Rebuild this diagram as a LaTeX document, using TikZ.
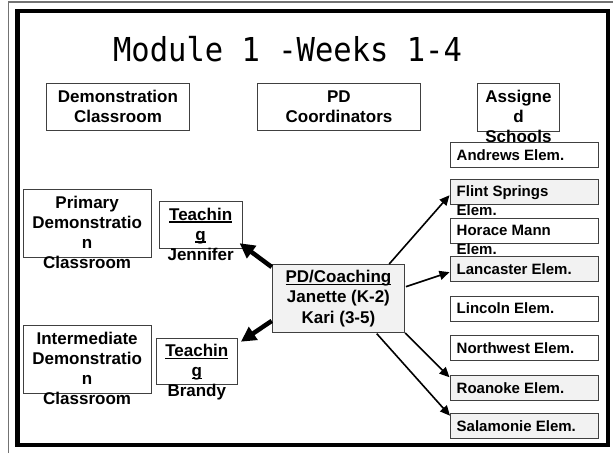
\documentclass[tikz,border=0pt]{standalone}
\usepackage{fontspec}
\setmainfont{Liberation Sans}
\newfontfamily\titlefont{DejaVu Sans Mono}
\usetikzlibrary{arrows.meta,calc}
% underline drawn as a rule just below the baseline
\newcommand\ulined[1]{\setbox0\hbox{#1}\rlap{\rule[-2.6pt]{\wd0}{1.3pt}}\box0}
\begin{document}
\begin{tikzpicture}[x=1pt,y=-1pt,
  box/.style={draw=black!75,line width=0.9pt,fill=white,inner sep=0pt,anchor=north west},
  shaded/.style={box,fill=black!5},
  school/.style={box,minimum width=148.5pt,minimum height=25pt},
  shadedschool/.style={school,fill=black!5},
  lbl/.style={font=\bfseries\fontsize{17}{20}\selectfont,align=center,inner sep=0pt,anchor=base},
  slbl/.style={font=\bfseries\fontsize{15}{19}\selectfont,align=left,inner sep=0pt,anchor=base west},
  bigarrow/.style={line width=4.5pt,-{Triangle[length=15pt,width=15pt]}},
  thinarrow/.style={line width=1.6pt,-{Triangle[length=10pt,width=9pt]}}
]
\useasboundingbox (0,0) rectangle (613,453);
\fill[white] (0,0) rectangle (613,453);

% slide border and frame
\draw[black!55,line width=1.2pt] (8.5,453) -- (8.5,2) -- (613,2);
\draw[line width=4.5pt] (17.5,11) rectangle (608,445);

% title
\node[font=\titlefont\fontsize{30.5}{34}\selectfont,inner sep=0pt,anchor=base] (title) at (287.5,61.7) {\scalebox{1}[1.08]{Module 1 -Weeks 1-4}};

% column headings (labels are placed by the baseline of their last line)
\node[box,minimum width=143pt,minimum height=47pt] (demo) at (46,83) {};
\node[lbl] (demo-t) at ($(demo.north)+(0,39)$) {Demonstration\\Classroom};
\node[box,minimum width=163pt,minimum height=47pt] (coord) at (257,83) {};
\node[lbl] (coord-t) at ($(coord.north)+(0,39)$) {PD\\Coordinators};
\node[box,minimum width=82pt,minimum height=47.5pt] (assigned) at (477,83) {};
\node[lbl] (assigned-t) at ($(assigned.north)+(0,59.5)$) {Assigne\\d\\Schools};

% schools
\node[school] (andrews) at (449.5,141.7) {};
\node[slbl] (andrews-t) at ($(andrews.north west)+(7,18.3)$) {Andrews Elem.};
\node[shadedschool] (flint) at (449.5,179.3) {};
\node[slbl] (flint-t) at ($(flint.north west)+(7,36)$) {Flint Springs\\Elem.};
\node[school] (horace) at (449.5,217.7) {};
\node[slbl] (horace-t) at ($(horace.north west)+(7,37)$) {Horace Mann\\Elem.};
\node[shadedschool] (lancaster) at (449.5,255.7) {};
\node[slbl] (lancaster-t) at ($(lancaster.north west)+(7,18.3)$) {Lancaster Elem.};
\node[school] (lincoln) at (449.5,295.5) {};
\node[slbl] (lincoln-t) at ($(lincoln.north west)+(7,17.5)$) {Lincoln Elem.};
\node[school] (northwest) at (449.5,335.3) {};
\node[slbl] (northwest-t) at ($(northwest.north west)+(7,18)$) {Northwest Elem.};
\node[shadedschool] (roanoke) at (449.5,375.3) {};
\node[slbl] (roanoke-t) at ($(roanoke.north west)+(7,18)$) {Roanoke Elem.};
\node[shadedschool] (salamonie) at (449.5,413.3) {};
\node[slbl] (salamonie-t) at ($(salamonie.north west)+(7,18)$) {Salamonie Elem.};

% demonstration classrooms
\node[box,minimum width=128pt,minimum height=68pt] (primary) at (22.7,189.3) {};
\node[lbl] (primary-t) at ($(primary.north)+(0,79)$) {Primary\\Demonstratio\\n\\Classroom};
\node[box,minimum width=128pt,minimum height=68.3pt] (inter) at (22.7,325) {};
\node[lbl] (inter-t) at ($(inter.north)+(0,79.3)$) {Intermediate\\Demonstratio\\n\\Classroom};

% teaching boxes
\node[box,minimum width=83pt,minimum height=47.6pt] (tj) at (158.7,200.7) {};
\node[lbl] (tj-t) at ($(tj.north)+(0,59.3)$) {\ulined{Teachin}\\\ulined{g}\\Jennifer};
\node[box,minimum width=81.3pt,minimum height=46.6pt] (tb) at (155.7,337.7) {};
\node[lbl] (tb-t) at ($(tb.north)+(0,59)$) {\ulined{Teachin}\\\ulined{g}\\Brandy};

% coaching
\node[shaded,minimum width=132.6pt,minimum height=68pt] (pd) at (271.7,264) {};
\node[lbl,font=\bfseries\fontsize{17}{20.5}\selectfont] (pd-t) at ($(pd.north)+(0,59.3)$) {\ulined{PD/Coaching}\\Janette (K-2)\\Kari (3-5)};

% connectors
\draw[bigarrow] ($(pd.north west)+(0,3)$) -- ($(tj.south east)+(-3,-6)$);
\draw[bigarrow] ($(pd.south west)+(0,-12)$) -- ($(tb.north east)+(3,4)$);
\draw[thinarrow] ($(pd.north east)+(-16,0)$) -- ($(flint.west)+(0,3)$);
\draw[thinarrow] ($(pd.north east)+(0.7,22.7)$) -- ($(lancaster.west)+(0,3.5)$);
\draw[thinarrow] (pd.south east) -- ($(roanoke.north west)+(0,2)$);
\draw[thinarrow] ($(pd.south west)+(105,0.7)$) -- ($(salamonie.north west)+(0.5,2.4)$);
\end{tikzpicture}
\end{document}
